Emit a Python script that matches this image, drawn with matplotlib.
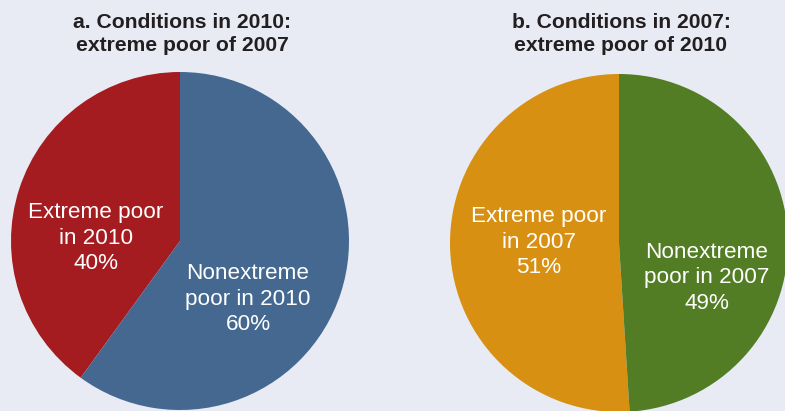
import matplotlib
matplotlib.use("Agg")
import matplotlib.pyplot as plt

# Data
titles = ["a. Conditions in 2010:\nextreme poor of 2007",
          "b. Conditions in 2007:\nextreme poor of 2010"]
labels_a = ["Extreme poor\nin 2010", "Nonextreme\npoor in 2010"]
values_a = [40, 60]
labels_b = ["Extreme poor\nin 2007", "Nonextreme\npoor in 2007"]
values_b = [51, 49]

colors_a = ["#a51c20", "#446890"]
colors_b = ["#d89012", "#527d24"]
bg = "#e8ebf3"

W, H = 785, 411
fig = plt.figure(figsize=(W / 100, H / 100), dpi=100, facecolor=bg)
ax = fig.add_axes([0, 0, 1, 1])
ax.set_facecolor(bg)

def py(y):  # pixel-from-top to data y
    return H - y

R = 169
centers = [(180, py(241)), (619, py(243))]
font = "Liberation Sans"

for (cx, cy), vals, cols in [(centers[0], values_a, colors_a), (centers[1], values_b, colors_b)]:
    ax.pie(vals, colors=cols, startangle=90, counterclock=True, center=(cx, cy),
           radius=R, wedgeprops=dict(linewidth=0), frame=False)

ax.set_xlim(0, W)
ax.set_ylim(0, H)
ax.set_aspect("equal")
ax.set_axis_off()

# titles
for (cx, _), t in zip(centers, titles):
    ax.text(cx + 2, py(34), t, ha="center", va="center", fontsize=15.2,
            fontweight="bold", color="#231f20", family=font, linespacing=1.32)

# labels
label_pos_a = [(96, 238), (248, 299)]
label_pos_b = [(539, 242), (707, 278)]
for pos, labs, vals in [(label_pos_a, labels_a, values_a), (label_pos_b, labels_b, values_b)]:
    for (x, y), lab, v in zip(pos, labs, vals):
        ax.text(x, py(y), f"{lab}\n{v}%", ha="center", va="center", fontsize=16.2,
                color="white", family=font, linespacing=1.27)

fig.savefig("out.png", dpi=100, facecolor=bg)
